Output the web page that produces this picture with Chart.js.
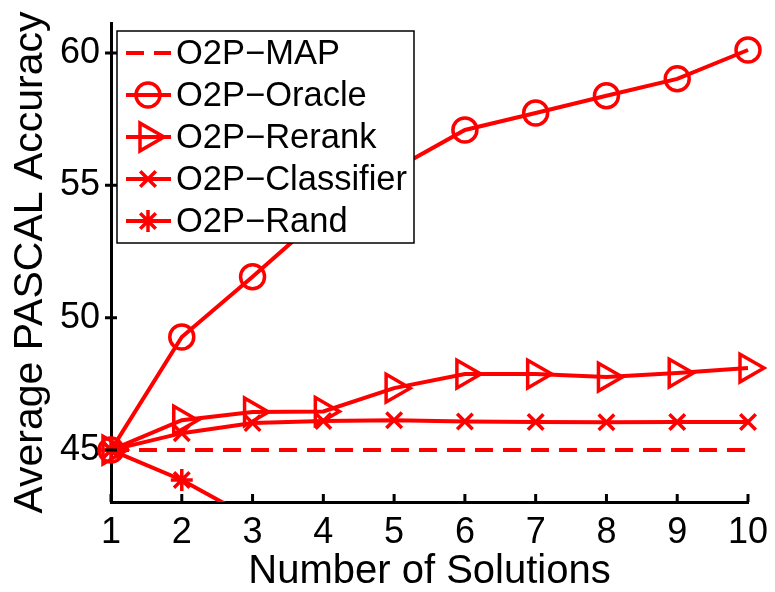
<!DOCTYPE html>
<html>
<head>
<meta charset="utf-8">
<script src="https://cdn.jsdelivr.net/npm/chart.js@4.4.0/dist/chart.umd.min.js"></script>
<style>
  html, body { margin: 0; padding: 0; background: #fff; }
  #wrap { width: 775px; height: 592px; }
</style>
</head>
<body>
<div id="wrap"><canvas id="accChart" width="775" height="592"></canvas></div>
<script>
// Number of solutions (x axis)
const solutions = ['1', '2', '3', '4', '5', '6', '7', '8', '9', '10'];

// Average PASCAL accuracy per method
const mapAcc = [45.0, 45.0, 45.0, 45.0, 45.0, 45.0, 45.0, 45.0, 45.0, 45.0];
const oracleAcc = [45.0, 49.27, 51.55, 53.9, 55.6, 57.09, 57.73, 58.38, 59.02, 60.11];
const rerankAcc = [45.0, 46.13, 46.44, 46.46, 47.34, 47.87, 47.87, 47.76, 47.91, 48.1];
const classifierAcc = [45.0, 45.64, 46.02, 46.1, 46.13, 46.08, 46.06, 46.05, 46.06, 46.06];
const randAcc = [45.0, 43.87, 42.4];

const yTicks = [45, 50, 55, 60];

const RED = '#ff0000';
const FONT = "'Liberation Sans', Arial, Helvetica, sans-serif";

// MATLAB style ticks pointing into the axes
const innerTicks = {
  id: 'innerTicks',
  afterDraw(chart) {
    const {ctx, chartArea, scales} = chart;
    ctx.save();
    ctx.strokeStyle = '#000';
    ctx.lineWidth = 3;
    ctx.beginPath();
    scales.x.ticks.forEach((t, i) => {
      const px = scales.x.getPixelForTick(i);
      ctx.moveTo(px, chartArea.bottom);
      ctx.lineTo(px, chartArea.bottom - 8);
    });
    scales.y.ticks.forEach((t, i) => {
      const py = scales.y.getPixelForTick(i);
      ctx.moveTo(chartArea.left - 6, py);
      ctx.lineTo(chartArea.left + 6, py);
    });
    ctx.stroke();
    ctx.restore();
  }
};

// Boxed legend inside the axes, each entry shows line + marker
const boxLegend = {
  id: 'boxLegend',
  afterDatasetsDraw(chart) {
    const ctx = chart.ctx;
    const left = 117, top = 31, width = 297, height = 212;
    ctx.save();
    ctx.fillStyle = '#fff';
    ctx.fillRect(left, top, width, height);
    ctx.strokeStyle = '#000';
    ctx.lineWidth = 1.5;
    ctx.strokeRect(left, top, width, height);
    ctx.font = '34.5px ' + FONT;
    ctx.textBaseline = 'middle';
    chart.data.datasets.forEach((ds, i) => {
      const y = top + 22 + i * 42;
      ctx.strokeStyle = ds.borderColor;
      ctx.lineWidth = ds.borderWidth;
      ctx.setLineDash(ds.borderDash || []);
      ctx.beginPath();
      ctx.moveTo(126, y);
      ctx.lineTo(171, y);
      ctx.stroke();
      ctx.setLineDash([]);
      if (ds.pointRadius > 0) {
        ctx.fillStyle = ds.pointBackgroundColor;
        ctx.lineWidth = ds.pointBorderWidth;
        Chart.helpers.drawPoint(ctx, {
          pointStyle: ds.pointStyle,
          radius: ds.pointRadius,
          rotation: ds.pointRotation || 0,
          borderWidth: ds.pointBorderWidth
        }, 148, y);
      }
      ctx.fillStyle = '#000';
      ctx.fillText(ds.label, 176, y + 1);
    });
    ctx.restore();
  }
};

function series(label, data, extra) {
  return Object.assign({
    label: label,
    data: data,
    borderColor: RED,
    backgroundColor: RED,
    borderWidth: 4,
    pointBorderColor: RED,
    pointBackgroundColor: 'rgba(0,0,0,0)',
    pointBorderWidth: 3.5,
    tension: 0,
    fill: false
  }, extra);
}

const ctx = document.getElementById('accChart').getContext('2d');
const accChart = new Chart(ctx, {
  type: 'line',
  data: {
    labels: solutions,
    datasets: [
      series('O2P\u2212MAP', mapAcc, {borderDash: [18, 10], pointRadius: 0}),
      series('O2P\u2212Oracle', oracleAcc, {pointStyle: 'circle', pointRadius: 12}),
      series('O2P\u2212Rerank', rerankAcc, {pointStyle: 'triangle', pointRotation: 90, pointRadius: 16}),
      series('O2P\u2212Classifier', classifierAcc, {pointStyle: 'crossRot', pointRadius: 11}),
      series('O2P\u2212Rand', randAcc, {pointStyle: 'star', pointRadius: 11,
        clip: {left: false, top: false, right: false, bottom: 0}})
    ]
  },
  options: {
    responsive: false,
    animation: false,
    devicePixelRatio: 1,
    layout: {padding: {left: 0, top: 23, right: 27, bottom: 0}},
    plugins: {
      legend: {display: false},
      tooltip: {enabled: false}
    },
    scales: {
      x: {
        type: 'category',
        offset: false,
        grid: {display: false, drawTicks: false},
        border: {display: true, color: '#000', width: 3},
        ticks: {color: '#000', font: {family: FONT, size: 36}, padding: 9, maxRotation: 0, autoSkip: false},
        title: {display: true, text: 'Number of Solutions', color: '#000',
          font: {family: FONT, size: 40, lineHeight: 1}, padding: {top: 0, bottom: 0}},
        afterFit(scale) {
          scale.height = 90;
          scale.paddingLeft = 0;
          scale.paddingRight = 0;
        }
      },
      y: {
        min: 43.04,
        max: 61.13,
        grid: {display: false, drawTicks: false},
        border: {display: true, color: '#000', width: 3},
        ticks: {color: '#000', font: {family: FONT, size: 36}, padding: 11},
        afterBuildTicks(scale) { scale.ticks = yTicks.map(v => ({value: v})); },
        title: {display: true, text: 'Average PASCAL Accuracy', color: '#000',
          font: {family: FONT, size: 41, lineHeight: 1}, padding: {top: 10, bottom: 0}},
        afterFit(scale) {
          scale.width = 111;
          scale.paddingTop = 0;
          scale.paddingBottom = 0;
        }
      }
    }
  },
  plugins: [innerTicks, boxLegend]
});
</script>
</body>
</html>
